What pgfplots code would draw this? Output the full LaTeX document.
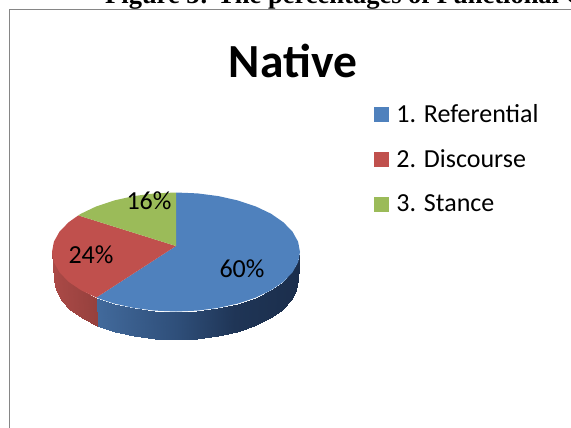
\documentclass[border=0pt]{standalone}
\usepackage{pgfplots}
\pgfplotsset{compat=1.18}
\usepackage{fontspec}
\setmainfont{Carlito}
\newfontfamily\tnr{Liberation Serif}
\definecolor{pblue}{RGB}{79,129,189}
\definecolor{pred}{RGB}{192,80,77}
\definecolor{pgreen}{RGB}{155,187,89}
\definecolor{frame}{RGB}{134,134,134}
\pgfplotstableread{
x y m
300 252 300
298 280 300
296.1 290.3 298
298.1 262.3 298
298.1 262.3 298
296.1 290.3 298
290.6 300.3 292
292.5 272.3 292
292.5 272.3 292
290.6 300.3 292
281.7 309.8 283
283.4 281.8 283
283.4 281.8 283
281.7 309.8 283
269.5 318.2 271
271 290.2 271
271 290.2 271
269.5 318.2 271
254.4 325.6 255
255.7 297.6 255
255.7 297.6 255
254.4 325.6 255
237 331.5 238
238 303.5 238
238 303.5 238
237 331.5 238
217.7 335.9 218
218.4 307.9 218
218.4 307.9 218
217.7 335.9 218
197.2 338.6 197
197.5 310.6 197
197.5 310.6 197
197.2 338.6 197
176 339.5 176
176 311.5 176
176 311.5 176
176 339.5 176
154.8 338.6 155
154.5 310.6 155
154.5 310.6 155
154.8 338.6 155
134.3 335.9 134
133.6 307.9 134
133.6 307.9 134
134.3 335.9 134
115 331.5 114
114 303.5 114
114 303.5 114
115 331.5 114
96.6 325.6 96
96.3 297.6 96
96.3 297.6 46
96.6 325.6 46
82.5 318.2 31
81 290.2 31
81 290.2 31
82.5 318.2 31
70.3 309.8 19
68.6 281.8 19
68.6 281.8 19
70.3 309.8 19
61.4 300.3 10
59.5 272.3 10
59.5 272.3 10
61.4 300.3 10
55.9 290.3 4
53.9 262.3 4
53.9 262.3 4
55.9 290.3 4
54 280 2
52 252 2
}\sidetable
\begin{document}
\begin{tikzpicture}
\clip (0,0) rectangle (571pt,428pt);
\begin{axis}[
  scale only axis, width=571pt, height=428pt,
  xmin=0, xmax=571, ymin=0, ymax=428, y dir=reverse,
  hide axis, clip=false,
  colormap={side}{
    rgb255(0)=(172,74,71) rgb255(50)=(148,64,61)
    rgb255(90)=(66,106,156) rgb255(96)=(66,106,156)
    rgb255(176)=(47,79,122) rgb255(235)=(31,53,86) rgb255(300)=(27,46,76)},
  point meta min=0, point meta max=300,
  legend style={draw=none, fill=none, at={(axis cs:374,104)}, anchor=north west,
    font=\fontsize{26}{30}\selectfont, row sep=26pt, inner sep=0pt, outer sep=0pt,
    legend cell align=left, nodes={inner xsep=8pt, inner ysep=0pt}},
  legend image code/.code={\fill[#1] (0pt,-7pt) rectangle (14pt,7pt);},
]
\addlegendimage{pblue}\addlegendentry{1. Referential}
\addlegendimage{pred}\addlegendentry{2. Discourse}
\addlegendimage{pgreen}\addlegendentry{3. Stance}
% frame
\addplot[frame, line width=0.9pt, forget plot] coordinates {(9.5,440) (9.5,9.5) (590,9.5)};
% side wall
\addplot[patch, patch type=rectangle, shader=interp, forget plot,
  point meta=explicit] table[x=x, y=y, meta=m] {\sidetable};
% top faces
\addplot[fill=pblue, draw=none, forget plot] coordinates {
(176,246) (176,192.5) (197.5,193.4) (218.4,196.1) (238,200.5) (255.7,206.4) (271,213.7)
(283.4,222.3) (292.5,231.7) (298.1,241.7) (300,252) (298.1,262.3) (292.5,272.3) (283.4,281.8)
(271,290.2) (255.7,297.6) (238,303.5) (218.4,307.9) (197.5,310.6) (176,311.5) (154.5,310.6)
(133.6,307.9) (114,303.5) (96.3,297.6)} -- cycle;
\addplot[fill=pred, draw=none, forget plot] coordinates {
(176,246) (96.3,297.6) (81,290.2) (68.6,281.8) (59.5,272.3) (53.9,262.3) (52,252)
(53.9,241.7) (59.5,231.7) (68.6,222.3) (78.3,215.4)} -- cycle;
\addplot[fill=pgreen, draw=none, forget plot] coordinates {
(176,246) (78.3,215.4) (81,213.7) (96.3,206.4) (114,200.5) (133.6,196.1) (154.5,193.4) (176,192.5)} -- cycle;
% texts
\node[font=\tnr\bfseries\fontsize{26.5}{30}\selectfont, anchor=base west, inner sep=0pt]
  at (axis cs:105,3.5) {Figure 3: The percentages of Functional Categories};
\node[font=\bfseries\fontsize{47.5}{54}\selectfont, inner sep=0pt] at (axis cs:293,61) {Native};
\node[font=\fontsize{26}{30}\selectfont, inner sep=0pt] at (axis cs:149,201) {16\%};
\node[font=\fontsize{26}{30}\selectfont, inner sep=0pt] at (axis cs:91,255) {24\%};
\node[font=\fontsize{26}{30}\selectfont, inner sep=0pt] at (axis cs:242,269) {60\%};
\end{axis}
\end{tikzpicture}
\end{document}
